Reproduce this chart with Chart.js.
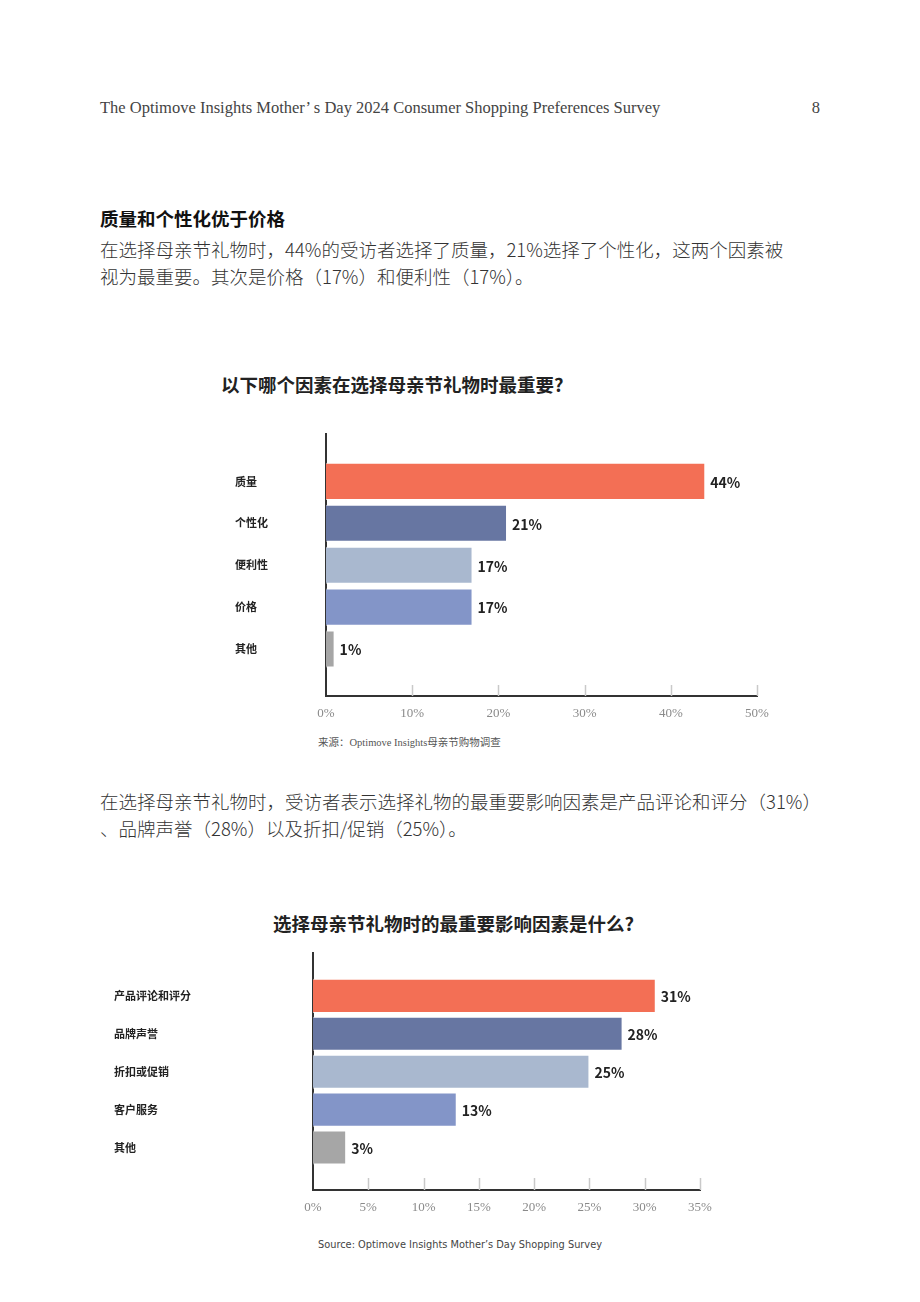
<!DOCTYPE html>
<html lang="zh">
<head>
<meta charset="utf-8">
<script src="https://cdn.jsdelivr.net/npm/chart.js@4.4.1/dist/chart.umd.min.js"></script>
<style>
  html, body { margin: 0; padding: 0; background: #fff; }
  .page { position: relative; width: 920px; height: 1302px; overflow: hidden; }
  .txt { position: absolute; white-space: nowrap; }
  .header { font-family: "Liberation Serif", serif; font-size: 16.5px; line-height: 20px; color: #444; }
  .h2 { font-family: "Noto Sans CJK SC", sans-serif; font-weight: 700; font-size: 18.5px; line-height: 24px; color: #111; }
  .para { font-family: "Noto Sans CJK SC", sans-serif; font-weight: 300; font-size: 18.5px; line-height: 27px; color: #333; }
  .ctitle { font-family: "Noto Sans CJK SC", sans-serif; font-weight: 700; font-size: 18.5px; line-height: 24px; color: #222; }
  .src1 { font-family: "Liberation Serif", "Noto Sans CJK SC", serif; font-size: 10.5px; line-height: 14px; color: #555; }
  .src2 { font-family: "DejaVu Sans", sans-serif; font-size: 9.8px; line-height: 14px; color: #444; }
  canvas { position: absolute; left: 0; }
</style>
</head>
<body>
<div class="page">
  <div class="txt header" style="left:100px; top:98px;">The Optimove Insights Mother’ s Day 2024 Consumer Shopping Preferences Survey</div>
  <div class="txt header" style="right:100px; top:98px;">8</div>

  <div class="txt h2" style="left:100px; top:206px;">质量和个性化优于价格</div>
  <div class="txt para" style="left:100px; top:236px;">在选择母亲节礼物时，44%的受访者选择了质量，21%选择了个性化，这两个因素被<br>视为最重要。其次是价格（17%）和便利性（17%）。</div>

  <div class="txt ctitle" style="left:221px; top:372px;">以下哪个因素在选择母亲节礼物时最重要?</div>
  <canvas id="chart1" width="920" height="306" style="top:420px;"></canvas>
  <div class="txt src1" style="left:318px; top:736px;">来源：Optimove Insights母亲节购物调查</div>

  <div class="txt para" style="left:100px; top:788px;">在选择母亲节礼物时，受访者表示选择礼物的最重要影响因素是产品评论和评分（31%）<br>、品牌声誉（28%）以及折扣/促销（25%）。</div>

  <div class="txt ctitle" style="left:273px; top:911px;">选择母亲节礼物时的最重要影响因素是什么?</div>
  <canvas id="chart2" width="920" height="280" style="top:940px;"></canvas>
  <div class="txt src2" style="left:318px; top:1238px;">Source: Optimove Insights Mother’s Day Shopping Survey</div>
</div>

<script>
// Chart 1: most important factor
const factors = ['质量', '个性化', '便利性', '价格', '其他'];
const factorValues = [44, 21, 17, 17, 1];
const factorTicks = [0, 10, 20, 30, 40, 50];

// Chart 2: biggest influences
const influences = ['产品评论和评分', '品牌声誉', '折扣或促销', '客户服务', '其他'];
const influenceValues = [31, 28, 25, 13, 3];
const influenceTicks = [0, 5, 10, 15, 20, 25, 30, 35];

const barColors = ['#F36F55', '#6776A2', '#A9B8CF', '#8395C8', '#A6A6A6'];

// value labels at the end of each bar
const valueLabels = {
    id: 'valueLabels',
    afterDatasetsDraw(chart) {
        const ctx = chart.ctx;
        const meta = chart.getDatasetMeta(0);
        const vals = chart.data.datasets[0].data;
        ctx.save();
        ctx.font = 'bold 14px "Noto Sans CJK SC", sans-serif';
        ctx.fillStyle = '#222';
        ctx.textAlign = 'left';
        ctx.textBaseline = 'middle';
        meta.data.forEach((bar, i) => {
            ctx.fillText(vals[i].x + '%', bar.x + 5, bar.y + 1);
        });
        ctx.restore();
    }
};

// short grey tick marks standing up from the x axis
const upTicks = {
    id: 'upTicks',
    afterDraw(chart, args, opts) {
        const ctx = chart.ctx;
        const xs = chart.scales.x;
        const bottom = chart.chartArea.bottom;
        ctx.save();
        ctx.strokeStyle = '#c9c9c9';
        ctx.lineWidth = 1.5;
        xs.ticks.forEach(t => {
            if (t.value === 0) return;
            const px = Math.round(xs.getPixelForValue(t.value)) + 0.5;
            ctx.beginPath();
            ctx.moveTo(px, bottom - opts.len);
            ctx.lineTo(px, bottom);
            ctx.stroke();
        });
        ctx.restore();
    }
};

function makeChart(id, cats, values, ticks, opts) {
    const ctx = document.getElementById(id).getContext('2d');
    const maxTick = ticks[ticks.length - 1];
    return new Chart(ctx, {
        type: 'bar',
        data: {
            datasets: [{
                data: values.map((v, i) => ({ x: v, y: i })),
                backgroundColor: barColors,
                borderColor: 'rgba(255,255,255,0.7)',
                borderWidth: 1,
                categoryPercentage: 1,
                barPercentage: opts.barPct
            }]
        },
        options: {
            indexAxis: 'y',
            responsive: false,
            animation: false,
            devicePixelRatio: 1,
            layout: { padding: { left: opts.left, right: 920 - opts.right, top: opts.top, bottom: 0 } },
            plugins: {
                legend: { display: false },
                tooltip: { enabled: false },
                title: { display: false },
                upTicks: { len: opts.tickLen }
            },
            scales: {
                x: {
                    type: 'linear',
                    min: 0,
                    max: maxTick,
                    afterBuildTicks: s => { s.ticks = ticks.map(v => ({ value: v })); },
                    grid: { display: false, drawTicks: false },
                    border: { display: true, color: '#333', width: 2 },
                    ticks: {
                        padding: 10,
                        color: '#8a8a8a',
                        font: { family: '"Liberation Serif", serif', size: 13 },
                        callback: v => v + '%'
                    },
                    afterFit: s => { s.height = 30; }
                },
                y: {
                    type: 'linear',
                    reverse: true,
                    offset: false,
                    min: -1.13,
                    max: cats.length - 1 + 1.12,
                    afterBuildTicks: s => { s.ticks = cats.map((c, i) => ({ value: i })); },
                    grid: { display: false, drawTicks: false, offset: false },
                    border: { display: true, color: '#333', width: 2 },
                    ticks: {
                        autoSkip: false,
                        crossAlign: 'far',
                        color: '#222',
                        font: { family: '"Noto Sans CJK SC", sans-serif', size: 11, weight: 'bold' },
                        callback: v => cats[v] ?? ''
                    },
                    afterFit: s => { s.width = opts.axisX - opts.left; }
                }
            }
        },
        plugins: [valueLabels, upTicks]
    });
}

makeChart('chart1', factors, factorValues, factorTicks,
    { left: 235, axisX: 326, right: 757, top: 14, barPct: 0.885, tickLen: 11 });
makeChart('chart2', influences, influenceValues, influenceTicks,
    { left: 114, axisX: 313, right: 700, top: 13, barPct: 0.9, tickLen: 12 });
</script>
</body>
</html>
